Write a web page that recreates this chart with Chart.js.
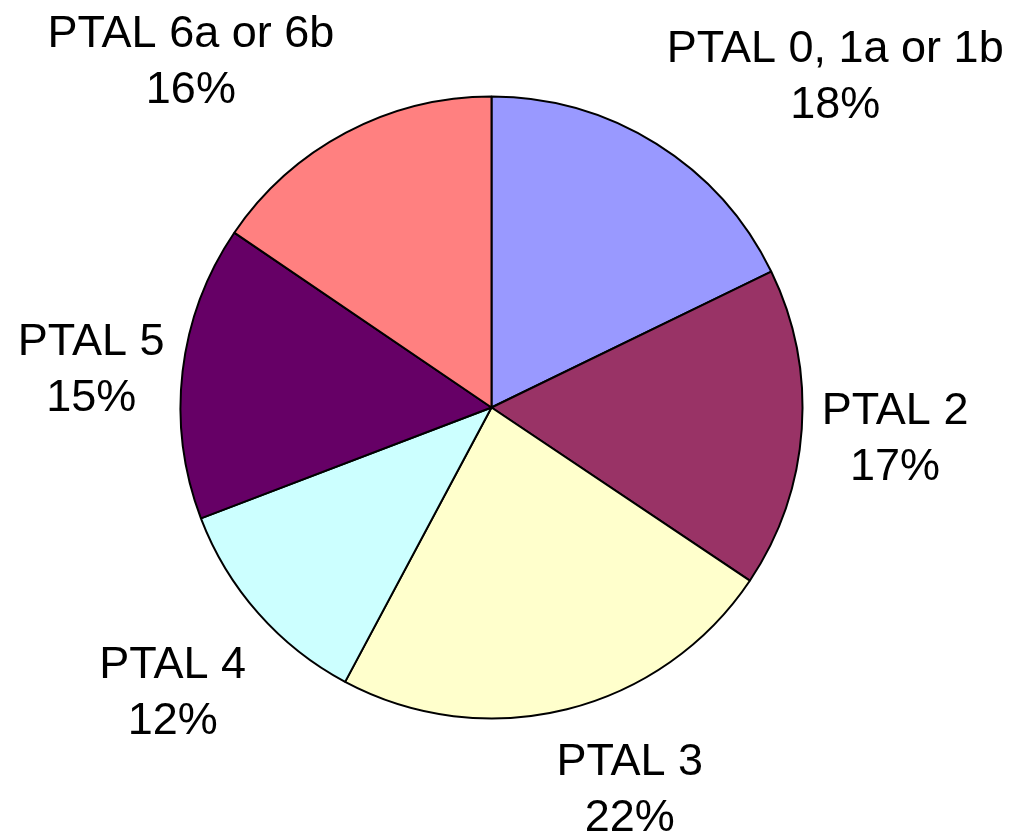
<!DOCTYPE html>
<html>
<head>
<meta charset="utf-8">
<script src="https://cdn.jsdelivr.net/npm/chart.js@4/dist/chart.umd.min.js"></script>
<style>
  html, body { margin: 0; padding: 0; background: #ffffff; }
  #wrap { width: 1028px; height: 833px; }
</style>
</head>
<body>
<div id="wrap"><canvas id="c" width="1028" height="833"></canvas></div>
<script>
// ---- data ----
const categories = ["PTAL 0, 1a or 1b", "PTAL 2", "PTAL 3", "PTAL 4", "PTAL 5", "PTAL 6a or 6b"];
const shares = [17.8, 16.6, 23.4, 11.4, 15.3, 15.5];        // slice sizes (angles) as drawn
const percentLabels = ["18%", "17%", "22%", "12%", "15%", "16%"]; // percentages printed on the chart
const sliceColors = ["#9999FF", "#993366", "#FFFFCC", "#CCFFFF", "#660066", "#FF8080"];

// label nudges relative to an anchor on the slice's mid-angle (style only)
const labelNudges = [[131, -6], [3.5, -11], [41, -21.5], [-18, 5], [-2, -6], [-113, -6]];

const outsideLabels = {
  id: 'outsideLabels',
  afterDatasetsDraw(chart, args, opts) {
    const ctx = chart.ctx;
    const meta = chart.getDatasetMeta(0);
    ctx.save();
    ctx.font = opts.font;
    ctx.fillStyle = opts.color;
    ctx.textAlign = 'center';
    ctx.textBaseline = 'alphabetic';
    meta.data.forEach((arc, i) => {
      const mid = (arc.startAngle + arc.endAngle) / 2;
      const R = arc.outerRadius + opts.gap;
      const x = arc.x + R * Math.cos(mid) + opts.nudges[i][0];
      const y = arc.y + R * Math.sin(mid) + opts.nudges[i][1];
      ctx.fillText(chart.data.labels[i], x, y);
      ctx.fillText(opts.percents[i], x, y + opts.lineHeight);
    });
    ctx.restore();
  }
};

new Chart(document.getElementById('c'), {
  type: 'pie',
  data: {
    labels: categories,
    datasets: [{
      data: shares,
      backgroundColor: sliceColors,
      borderColor: '#000000',
      borderWidth: 2,
      radius: 311
    }]
  },
  options: {
    responsive: false,
    animation: false,
    devicePixelRatio: 1,
    layout: { padding: { left: 0, right: 45, top: 0, bottom: 18 } },
    plugins: {
      legend: { display: false },
      tooltip: { enabled: false },
      title: { display: false },
      outsideLabels: {
        font: '45px "Liberation Sans", Arial, sans-serif',
        color: '#000000',
        gap: 90,
        lineHeight: 56,
        nudges: labelNudges,
        percents: percentLabels
      }
    }
  },
  plugins: [outsideLabels]
});
</script>
</body>
</html>
